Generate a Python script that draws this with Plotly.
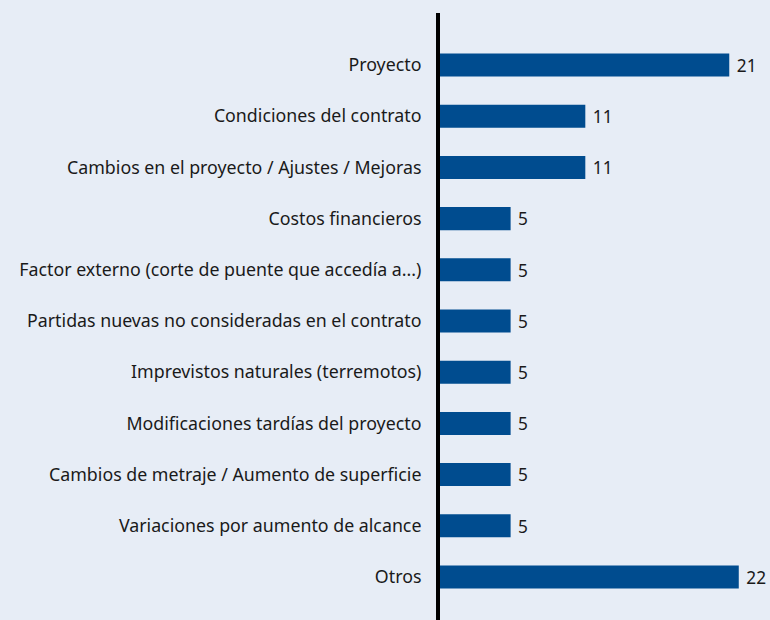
import plotly.graph_objects as go

categorias = ['Proyecto', 'Condiciones del contrato', 'Cambios en el proyecto / Ajustes / Mejoras',
              'Costos financieros', 'Factor externo (corte de puente que accedía a...)',
              'Partidas nuevas no consideradas en el contrato', 'Imprevistos naturales (terremotos)',
              'Modificaciones tardías del proyecto', 'Cambios de metraje / Aumento de superficie',
              'Variaciones por aumento de alcance', 'Otros']
valores = [21.3, 10.7, 10.7, 5.2, 5.2, 5.2, 5.2, 5.2, 5.2, 5.2, 22.0]
etiquetas = ['21', '11', '11', '5', '5', '5', '5', '5', '5', '5', '22']

fondo = '#e7edf6'
azul = '#004c8f'

fig = go.Figure(go.Bar(
    x=valores, y=categorias, orientation='h',
    marker=dict(color=azul, line=dict(width=0)),
    text=[' ' + e for e in etiquetas], textposition='outside', cliponaxis=False,
    textfont=dict(family='Noto Sans', size=18, color='#1a1a1a'),
    width=0.45,
))

fig.update_layout(
    width=770, height=620,
    paper_bgcolor=fondo, plot_bgcolor=fondo,
    margin=dict(l=440, r=0, t=13, b=0),
    showlegend=False,
    font=dict(family='Noto Sans', size=18, color='#1a1a1a'),
)
fig.update_xaxes(range=[0, 24.3], visible=False)
fig.update_yaxes(
    type='category', range=[10.84, -1.016],
    showline=True, linecolor='black', linewidth=4,
    showgrid=False, ticks='', ticklabelstandoff=11,
    tickfont=dict(family='Noto Sans', size=17.8, color='#1a1a1a'),
)

fig.write_html("out.html", config={'displayModeBar': False},
               post_script="document.body.style.margin='0';")
